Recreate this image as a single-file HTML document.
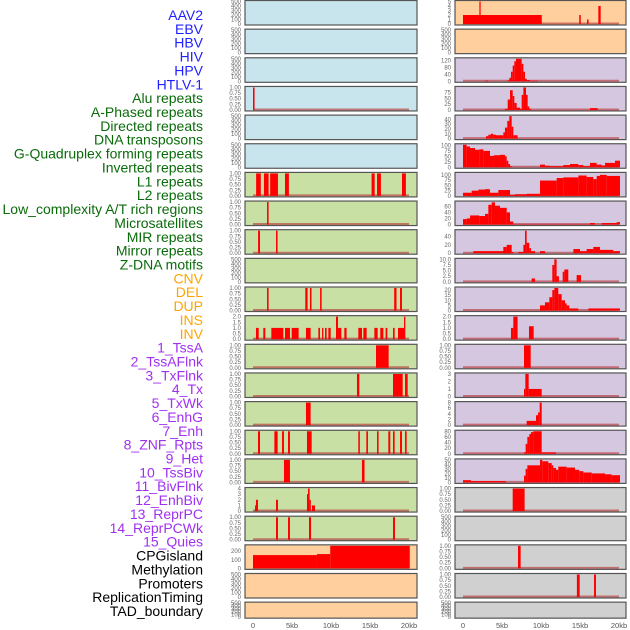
<!DOCTYPE html>
<html><head><meta charset="utf-8">
<style>
html,body{margin:0;padding:0;background:#fff;}
svg{display:block;font-family:"Liberation Sans",sans-serif;}
</style></head>
<body>
<svg id="chart" width="630" height="630" viewBox="0 0 630 630" xmlns="http://www.w3.org/2000/svg"></svg>
<script>
// ---- data ----
const trackLabels = ["AAV2","EBV","HBV","HIV","HPV","HTLV-1","Alu repeats","A-Phased repeats","Directed repeats","DNA transposons","G-Quadruplex forming repeats","Inverted repeats","L1 repeats","L2 repeats","Low_complexity A/T rich regions","Microsatellites","MIR repeats","Mirror repeats","Z-DNA motifs","CNV","DEL","DUP","INS","INV","1_TssA","2_TssAFlnk","3_TxFlnk","4_Tx","5_TxWk","6_EnhG","7_Enh","8_ZNF_Rpts","9_Het","10_TssBiv","11_BivFlnk","12_EnhBiv","13_ReprPC","14_ReprPCWk","15_Quies","CPGisland","Methylation","Promoters","ReplicationTiming","TAD_boundary"];
const labelColors = ["#1f1fff","#1f1fff","#1f1fff","#1f1fff","#1f1fff","#1f1fff","#0a6b0a","#0a6b0a","#0a6b0a","#0a6b0a","#0a6b0a","#0a6b0a","#0a6b0a","#0a6b0a","#0a6b0a","#0a6b0a","#0a6b0a","#0a6b0a","#0a6b0a","#ffa500","#ffa500","#ffa500","#ffa500","#ffa500","#a030f0","#a030f0","#a030f0","#a030f0","#a030f0","#a030f0","#a030f0","#a030f0","#a030f0","#a030f0","#a030f0","#a030f0","#a030f0","#a030f0","#a030f0","#000","#000","#000","#000","#000"];
const xTicks = [0,5,10,15,20];
const xTickLabels = ["0","5kb","10kb","15kb","20kb"];
const T500=[0,100,200,300,400,500], T1=[0,0.25,0.5,0.75,1];
const L1=["0.00","0.25","0.50","0.75","1.00"];
// left column
const leftYmax = [500,500,500,1,500,500,1,1,1,500,1,2,1,1,1,1,1,4,1,263,500,500];
const leftTicks = [T500,T500,T500,T1,T500,T500,T1,T1,T1,T500,T1,[0,0.5,1,1.5,2],T1,T1,T1,T1,T1,[0,1,2,3,4],T1,[0,100,200],T500,T500];
const leftTickText = [null,null,null,L1,null,null,L1,L1,L1,null,L1,["0.0","0.5","1.0","1.5","2.0"],L1,L1,L1,L1,L1,null,L1,null,null,null];
const leftSegs = [
 [],[],[],
 [[0,0.2,1]],
 [],[],
 [[0.4,1.0,1],[1.4,2.0,1],[2.2,3.2,1],[4.1,4.6,1],[15.2,15.6,1],[15.9,16.4,1],[19.1,19.6,1]],
 [[1.8,2.0,1]],
 [[0.65,0.9,1],[2.95,3.15,1]],
 [],
 [[1.8,2.0,1],[6.7,7.0,1],[7.3,7.5,1],[8.6,8.8,1],[18.1,18.4,1],[18.85,19.1,1]],
 [[0.38,0.73,1],[1.32,1.58,1],[2.35,3.89,1],[4.10,4.74,1],[4.96,5.85,1],[6.79,7.39,1],[8.38,8.59,1],[8.85,9.02,1],[9.23,9.44,1],[9.66,9.96,1],[10.64,10.9,2],[10.9,11.32,1],[11.71,12.0,1],[13.5,13.97,1],[14.15,14.57,1],[15.56,15.98,1],[16.32,16.71,1],[17.0,17.22,1],[17.95,18.16,1],[18.59,19.36,1],[19.36,19.53,2]],
 [[15.77,17.39,1]],
 [[13.33,13.63,1],[17.95,19.19,1],[19.49,19.83,1]],
 [[6.79,7.39,1]],
 [[0.64,0.9,1],[2.74,3.16,1],[3.72,3.97,1],[4.49,4.74,1],[6.92,7.52,1],[13.5,13.7,1],[14.53,14.74,1],[15.9,16.1,1],[17.35,17.6,1],[17.95,18.16,1],[18.85,19.1,1],[19.49,19.7,1]],
 [[3.97,4.74,1],[13.97,14.3,1]],
 [[0.26,0.38,1],[0.38,0.64,2],[2.95,3.2,2],[6.92,7.05,3],[7.05,7.26,4],[7.26,7.4,2],[7.56,7.95,1]],
 [[2.95,3.2,1],[4.49,4.74,1],[7.18,7.44,1],[17.95,18.2,1]],
 [[0,8.2,155],[8.2,9.9,167],[9.9,20.1,270]],
 [],[]
];
const leftColors = ["#c8e4ec","#c8e4ec","#c8e4ec","#c8e4ec","#c8e4ec","#c8e4ec","#c9e0a5","#c9e0a5","#c9e0a5","#c9e0a5","#c9e0a5","#c9e0a5","#c9e0a5","#c9e0a5","#c9e0a5","#c9e0a5","#c9e0a5","#c9e0a5","#c9e0a5","#ffd09e","#ffd09e","#ffd09e"];
// right column
const rightYmax = [5,500,129,97,47,103,107,74,54,10,22,2,1,3,8,80,50,1,500,1,1,500];
const rightTicks = [[0,1,2,3,4,5],T500,[0,40,80,120],[0,25,50,75],[0,10,20,30,40],[0,25,50,75,100],[0,25,50,75,100],[0,20,40,60],[0,20,40],[0,2.5,5,7.5,10],[0,5,10,15,20],[0,0.5,1,1.5,2],T1,[0,1,2,3],[0,2,4,6,8],[0,20,40,60,80],[0,10,20,30,40,50],T1,T500,T1,T1,T500];
const rightTickText = [null,null,null,null,null,null,null,null,null,["0.0","2.5","5.0","7.5","10.0"],null,["0.0","0.5","1.0","1.5","2.0"],L1,null,null,null,null,L1,null,L1,L1,null];
const rightSegs = [
 [[0,10.1,2],[2.1,2.26,5],[14.9,15.1,2],[15.9,16.1,1],[17.35,17.65,4]],
 [],
 [[2.8,3.25,3],[5.68,5.94,5],[5.94,6.15,20],[6.15,6.37,55],[6.37,6.58,90],[6.58,6.79,115],[6.79,7.52,135],[7.52,7.74,100],[7.74,7.95,55],[7.95,8.16,15],[8.16,8.59,7],[8.59,9.57,3]],
 [[5.38,5.73,5],[5.73,6.03,45],[6.03,6.37,85],[6.37,6.58,60],[6.58,6.88,30],[6.88,7.31,10],[7.31,7.52,5],[7.52,7.74,65],[7.74,8.08,97],[8.08,8.29,65],[8.29,8.5,15],[8.5,8.72,5],[16.28,17.26,8]],
 [[2.95,3.25,5],[3.25,3.55,8],[3.55,3.89,10],[3.89,4.23,8],[4.23,5.17,7],[5.17,5.38,13],[5.38,5.68,23],[5.68,5.94,37],[5.94,6.24,47],[6.24,6.45,25],[6.45,7.0,7]],
 [[0,0.47,103],[0.47,0.9,95],[0.9,1.54,88],[1.54,2.09,80],[2.09,2.61,82],[2.61,3.46,75],[3.46,3.97,52],[3.97,4.74,55],[4.74,5.38,57],[5.38,5.6,50],[5.6,5.81,30],[5.81,6.03,15],[6.03,6.24,5],[9.87,10.51,12],[10.51,11.15,7],[11.15,12.86,5],[12.86,13.72,10],[13.72,14.79,15],[14.79,15.43,10],[15.43,16.28,5],[16.28,17.14,20],[17.14,17.78,12],[17.78,18.21,8],[18.21,19.49,20],[19.49,20.13,30]],
 [[0,1.11,15],[1.11,1.97,25],[1.97,2.82,30],[2.82,3.46,32],[3.46,4.53,15],[4.53,6.03,28],[6.03,6.67,5],[6.67,8.16,8],[8.16,9.87,10],[9.87,12.01,73],[12.01,12.86,85],[12.86,14.79,88],[14.79,15.85,97],[15.85,16.71,90],[16.71,17.14,80],[17.14,17.56,95],[17.56,18.42,100],[18.42,20.13,95]],
 [[0,0.47,18],[0.47,0.9,20],[0.9,2.09,30],[2.09,2.82,28],[2.82,3.25,35],[3.25,3.68,65],[3.68,4.1,73],[4.1,4.74,62],[4.74,5.6,55],[5.6,6.03,40],[6.03,6.45,10],[6.45,16.28,1],[16.28,16.92,5],[17.78,19.7,5],[19.7,20.13,8]],
 [[1.32,6.03,5],[5.17,5.6,15],[5.6,6.24,20],[6.24,6.45,3],[7.09,7.74,3],[7.74,7.95,20],[7.95,8.16,54],[8.16,8.5,25],[8.5,8.72,12],[8.72,9.23,5],[9.87,10.51,5],[14.15,15.0,10],[15.0,15.85,5],[15.85,16.71,10],[16.71,17.56,15],[17.56,19.27,8],[19.27,20.13,5]],
 [[8.8,9.23,1.5],[11.45,11.71,7.5],[11.71,12.0,10],[12.0,12.3,2.5],[12.78,12.99,4.5],[12.99,13.5,5.5],[14.57,15.13,3]],
 [[9.87,10.51,5],[10.51,11.07,8],[11.07,11.45,13],[11.45,11.71,20],[11.71,12.22,22],[12.22,12.65,16],[12.65,13.08,10],[13.08,13.29,7],[13.29,13.63,5],[13.63,14.79,2],[16.07,20.13,2]],
 [[6.15,6.45,1],[6.45,7.0,2],[8.46,9.06,1.15]],
 [[7.82,8.68,1]],
 [[7.82,7.99,1],[7.99,8.42,3],[8.42,10.09,1]],
 [[8.16,9.36,1.5],[9.36,9.62,3.5],[9.62,9.83,4.5],[9.83,10.09,8]],
 [[7.82,8.03,5],[8.03,8.25,35],[8.25,8.5,60],[8.5,8.72,70],[8.72,9.02,77],[9.02,10.09,80],[10.09,11.92,5]],
 [[0,1.03,5],[1.03,5.51,3],[7.82,8.03,15],[8.03,8.25,30],[8.25,9.87,38],[9.87,10.17,50],[10.17,10.94,47],[10.94,11.37,43],[11.37,11.58,38],[11.58,11.92,32],[11.92,12.22,28],[12.22,13.29,35],[13.29,14.36,33],[14.36,14.91,28],[14.91,15.43,25],[15.43,16.5,22],[16.5,18.21,20],[18.21,19.06,18],[19.06,20.13,16]],
 [[6.37,7.9,1]],
 [],
 [[7.05,7.39,1]],
 [[14.6,14.96,1],[16.8,17.05,1]],
 []
];
const rightColors = ["#ffd09e","#ffd09e","#d6c7e1","#d6c7e1","#d6c7e1","#d6c7e1","#d6c7e1","#d6c7e1","#d6c7e1","#d6c7e1","#d6c7e1","#d6c7e1","#d6c7e1","#d6c7e1","#d6c7e1","#d6c7e1","#d6c7e1","#d0d0d0","#d0d0d0","#d0d0d0","#d0d0d0","#d0d0d0"];

// ---- drawing ----
const NS="http://www.w3.org/2000/svg";
const svg=document.getElementById('chart');
function mk(tag,attrs,parent){const e=document.createElementNS(NS,tag);for(const k in attrs)e.setAttribute(k,attrs[k]);(parent||svg).appendChild(e);return e;}
const PITCH=28.65, PH=24.5;
function rowTop(i){return i*PITCH+0.5;}
function rowH(i){return i===21?16:PH;}
const cols=[{x0:245,x1:417,zero:253,segs:leftSegs,ymax:leftYmax,ticks:leftTicks,tt:leftTickText,colors:leftColors,name:'left'},
            {x0:455,x1:626,zero:463,segs:rightSegs,ymax:rightYmax,ticks:rightTicks,tt:rightTickText,colors:rightColors,name:'right'}];
const KB=7.8;
function fmt(v){return String(v);}

// labels
trackLabels.forEach((lab,i)=>{
  const t=mk('text',{x:203,y:20+i*13.86,'text-anchor':'end','font-size':'14',fill:labelColors[i]});
  
  
  t.textContent=lab;
});

cols.forEach((c,ci)=>{
  const xs=v=>c.zero+v*KB;
  for(let r=0;r<22;r++){
    const top=rowTop(r),h=rowH(r),bot=top+h;
    const g=mk('g',{});
    
    
    const ys=v=>bot-1-Math.min(v,c.ymax[r])/c.ymax[r]*(h-2);
    const bg=mk('rect',{x:c.x0,y:top,width:c.x1-c.x0,height:h,fill:c.colors[r]},g);
    
    
    const segs=c.segs[r];
    if(segs.length){
      const bl=mk('line',{x1:xs(0),x2:xs(20),y1:bot-1.5,y2:bot-1.5,stroke:'rgba(185,60,60,0.65)','stroke-width':2},g);
      
      
    }
    segs.forEach(s=>{
      const x=Math.max(xs(s[0]),c.x0+1), x2=Math.min(xs(s[1]),c.x1-1);
      const y=ys(s[2]);
      const b=mk('rect',{x:x,y:y,width:Math.max(x2-x,1.2),height:bot-1-y,fill:'#ff0000'},g);
      
      
    });
    const fr=mk('rect',{x:c.x0,y:top,width:c.x1-c.x0,height:h,fill:'none',stroke:'#555','stroke-width':1.2},g);
    
    
    c.ticks[r].forEach((tv,k)=>{
      const lbl=c.tt[r]?c.tt[r][k]:fmt(tv);
      const t=mk('text',{x:c.x0-4,y:ys(tv)+2,'text-anchor':'end','font-size':'6',fill:'#666'},g);
      
      
      t.textContent=lbl;
    });
  }
  xTicks.forEach((v,k)=>{
    const t=mk('text',{x:xs(v),y:628,'text-anchor':'middle','font-size':'7.5',fill:'#555'});
    
    
    t.textContent=xTickLabels[k];
  });
});
</script>
</body></html>
